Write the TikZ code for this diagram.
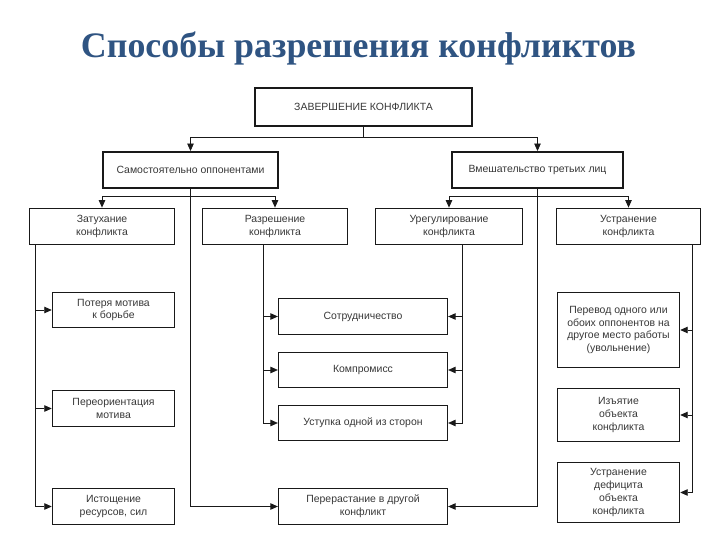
\documentclass[tikz,border=0pt]{standalone}
\usepackage{fontspec}
\setmainfont{Liberation Sans}
\newfontfamily\titlefont{Liberation Serif}
\usetikzlibrary{arrows.meta}
\definecolor{titleblue}{RGB}{47,84,130}
\definecolor{inkgray}{RGB}{55,55,55}
\tikzset{
	blk/.style={draw=black!90, line width=0.9bp, align=center, inner sep=2bp, text=inkgray, font=\fontsize{10.5}{13}\selectfont},
	hdblk/.style={blk, line width=2bp},
	lnk/.style={draw=black!90, line width=0.8bp},
	arr/.style={lnk, -{Triangle[length=7.5bp,width=6.5bp]}},
}

\begin{document}
\begin{tikzpicture}[x=1bp,y=-1bp]
			\useasboundingbox (0,0) rectangle (720,540);
			%%%%% TITLE %%%%%
			\node[anchor=base, text=titleblue, font=\titlefont\bfseries\fontsize{36}{36}\selectfont] (title) at (358.5,58) {Способы разрешения конфликтов};
			
			%%%%% TOP LEVELS %%%%%
			\node[hdblk, minimum width=217, minimum height=38] (end) at (363.5,107) {ЗАВЕРШЕНИЕ КОНФЛИКТА};
			\node[hdblk, minimum width=175, minimum height=36] (self) at (190.5,170) {Самостоятельно оппонентами};
			\node[hdblk, minimum width=171, minimum height=36] (third) at (537.5,170) {Вмешательство третьих лиц};
			
			\node[blk, minimum width=146, minimum height=37] (fade) at (102,226.5) {Затухание\\конфликта};
			\node[blk, minimum width=146, minimum height=37] (resolve) at (275,226.5) {Разрешение\\конфликта};
			\node[blk, minimum width=148, minimum height=37] (settle) at (449,226.5) {Урегулирование\\конфликта};
			\node[blk, minimum width=144, minimum height=37] (remove) at (628.5,226.5) {Устранение\\конфликта};
			
			%%%%% LEFT COLUMN %%%%%
			\node[blk, minimum width=123, minimum height=36] (motive) at (113.5,310) {Потеря мотива\\к борьбе};
			\node[blk, minimum width=123, minimum height=37] (reorient) at (113.5,408.5) {Переориентация\\мотива};
			\node[blk, minimum width=123, minimum height=37] (drain) at (113.5,506.5) {Истощение\\ресурсов, сил};
			
			%%%%% MIDDLE COLUMN %%%%%
			\node[blk, minimum width=170, minimum height=37] (coop) at (363,316.5) {Сотрудничество};
			\node[blk, minimum width=170, minimum height=36] (comp) at (363,370) {Компромисс};
			\node[blk, minimum width=170, minimum height=36] (yield) at (363,423) {Уступка одной из сторон};
			\node[blk, minimum width=170, minimum height=37] (grow) at (363,506.5) {Перерастание в другой\\конфликт};
			
			%%%%% RIGHT COLUMN %%%%%
			\node[blk, minimum width=123, minimum height=76] (move) at (618.5,330) {Перевод одного или\\обоих оппонентов на\\другое место работы\\(увольнение)};
			\node[blk, minimum width=123, minimum height=54] (seize) at (618.5,415) {Изъятие\\объекта\\конфликта};
			\node[blk, minimum width=123, minimum height=61] (lack) at (618.5,492.5) {Устранение\\дефицита\\объекта\\конфликта};
			
			%%%%% LINKS %%%%%
			\coordinate (j1) at (363.5,137);
			\coordinate (j2) at (190.5,196);
			\coordinate (j3) at (537.5,196);
			\draw[lnk] (end) -- (j1);
			\draw[arr] (j1) -| (self);
			\draw[arr] (j1) -| (third);
			
			\draw[lnk] (self) -- (j2);
			\draw[arr] (j2) -| (fade);
			\draw[arr] (j2) -| (resolve);
			\draw[arr] (self.south) |- (grow.west);
			
			\draw[lnk] (third) -- (j3);
			\draw[arr] (j3) -| (settle);
			\draw[arr] (j3) -| (remove);
			\draw[arr] (third.south) |- (grow.east);
			
			\foreach \b in {motive,reorient,drain}
				\draw[arr] ([xshift=7]fade.south west) |- (\b.west);
			\foreach \b in {coop,comp,yield}
				\draw[arr] ([xshift=-12]resolve.south) |- (\b.west);
			\foreach \b in {coop,comp,yield}
				\draw[arr] ([xshift=13]settle.south) |- (\b.east);
			\foreach \b in {move,seize,lack}
				\draw[arr] ([xshift=-8]remove.south east) |- (\b.east);
			%%%%% END %%%%%
		\end{tikzpicture}
\end{document}
